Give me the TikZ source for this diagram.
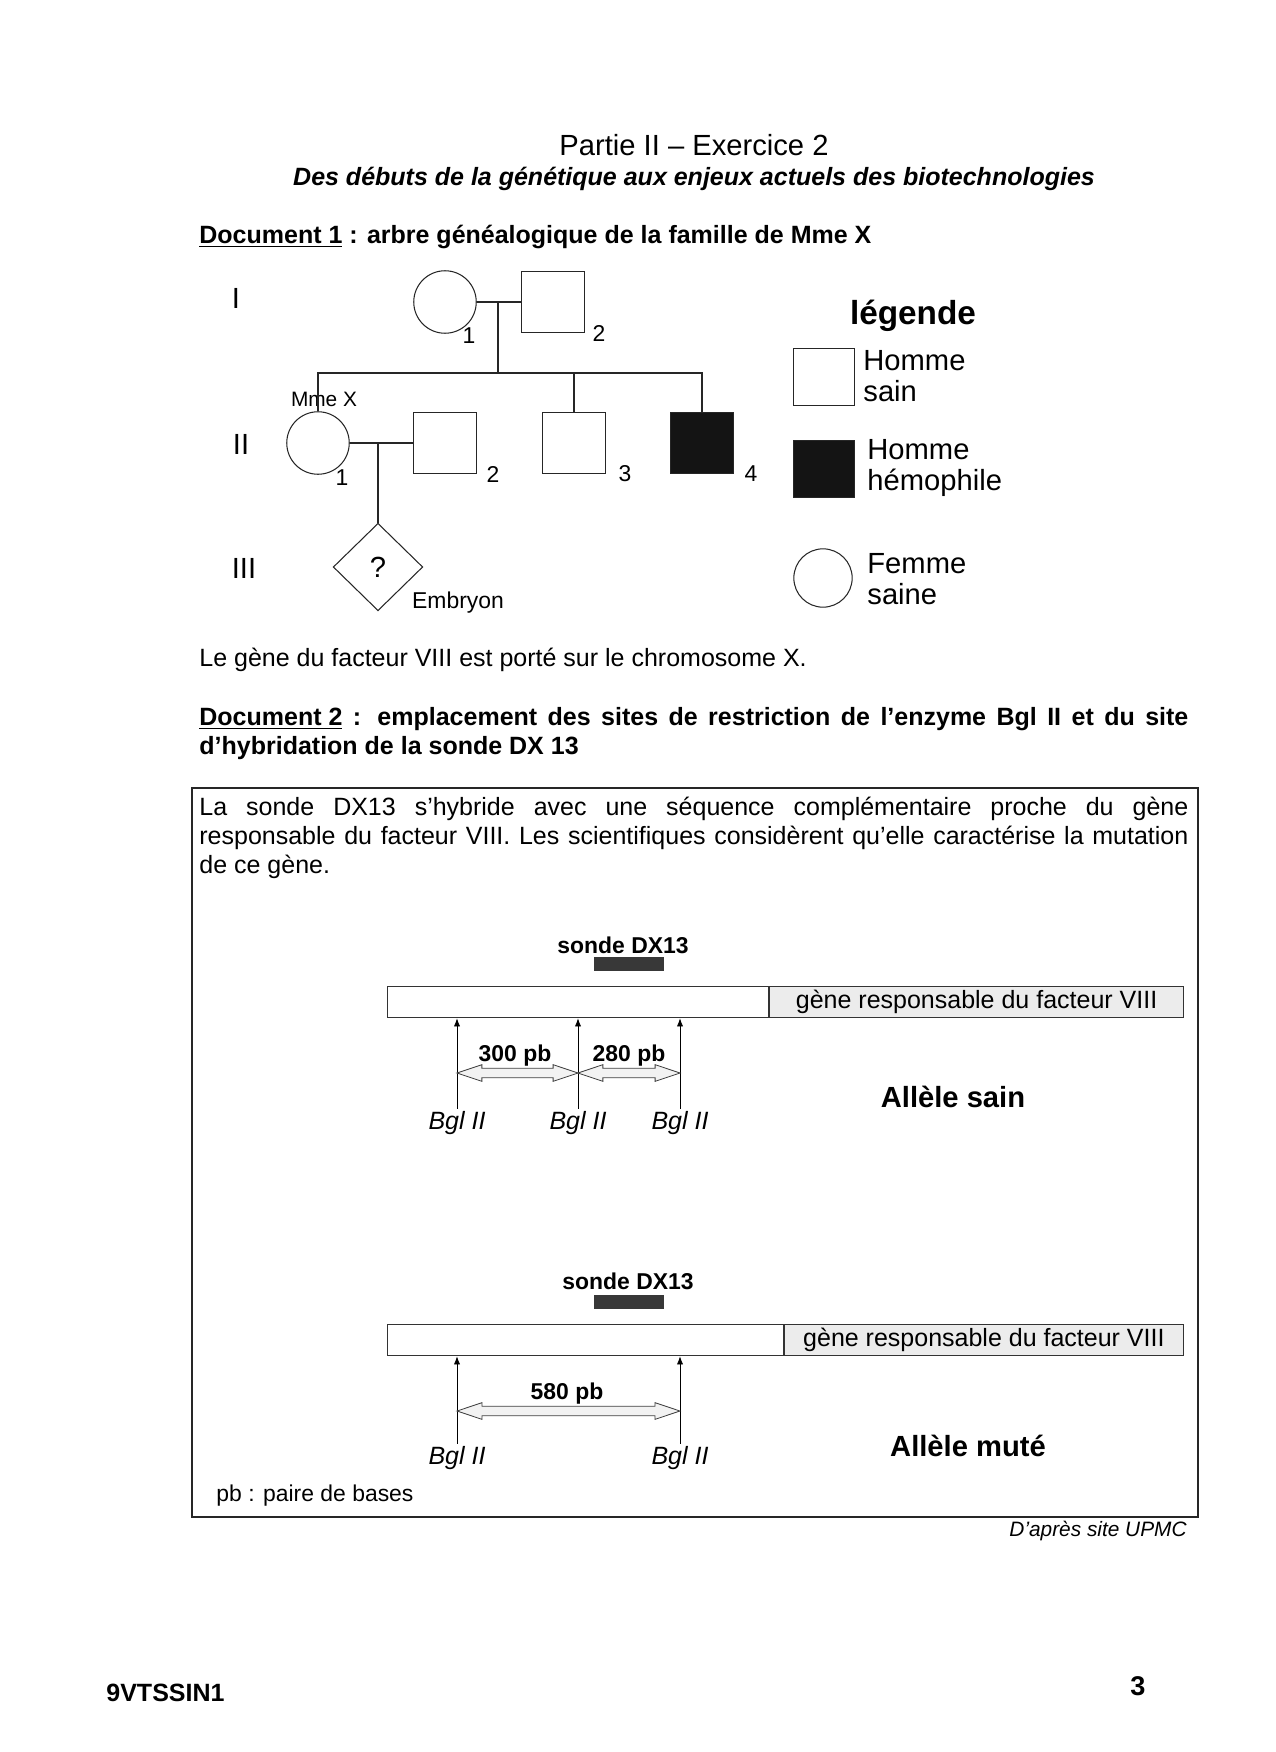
\documentclass[tikz,border=0pt]{standalone}
\usepackage{fontspec}
\setmainfont{Liberation Sans}
\usetikzlibrary{shapes.geometric, shapes.arrows, arrows.meta, positioning, calc}

\tikzset{
  trait/.style={draw=black!85, line width=0.5pt},
  homme/.style={trait, rectangle, minimum width=30pt, minimum height=29pt, inner sep=0pt},
  malade/.style={homme, fill=black!92},
  femme/.style={trait, circle, minimum size=30pt, inner sep=0pt},
  embryon/.style={trait, diamond, minimum width=43pt, minimum height=42pt, inner sep=0pt, font=\fontsize{14}{16}\selectfont},
  numero/.style={font=\fontsize{11}{13}\selectfont, inner sep=0pt},
  generation/.style={font=\fontsize{14}{16}\selectfont, inner sep=0pt},
  legtexte/.style={anchor=west, align=left, inner sep=0pt, font=\fontsize{14}{15}\selectfont},
  barre/.style={draw=black!80, line width=0.5pt, minimum height=15pt, inner sep=0pt},
  gene/.style={barre, fill=gray!15, font=\fontsize{12}{14}\selectfont},
  sonde/.style={fill=black!78, minimum width=33.6pt, minimum height=6.5pt, inner sep=0pt},
  nomsonde/.style={font=\bfseries\fontsize{11}{13}\selectfont, inner sep=0pt},
  site/.style={-{Latex[length=4pt,width=3pt]}, line width=0.4pt},
  enzyme/.style={font=\itshape\fontsize{12}{14}\selectfont, inner sep=1pt},
  taille/.style={double arrow, draw=black!75, fill=gray!10, line width=0.4pt,
    inner xsep=0pt, inner ysep=2.1pt, double arrow head extend=1.7pt, double arrow tip angle=37},
  pb/.style={font=\bfseries\fontsize{11}{13}\selectfont, inner sep=0pt},
  allele/.style={font=\bfseries\fontsize{14}{16}\selectfont, inner sep=0pt},
  texte/.style={font=\fontsize{12}{13.8}\selectfont, inner sep=0pt},
}

\begin{document}
\begin{tikzpicture}[x=0.48pt, y=-0.48pt]
  \useasboundingbox[fill=white] (0,0) rectangle (1275,1752);

  % En-tete
  \node[font=\fontsize{14}{16}\selectfont] (titre) at (694,145) {Partie II -- Exercice 2};
  \node[font=\bfseries\itshape\fontsize{12}{14}\selectfont] (soustitre) at (694,178.5)
    {Des débuts de la génétique aux enjeux actuels des biotechnologies};
  \node[texte, anchor=west, font=\bfseries\fontsize{12}{14}\selectfont] (doc1) at (199,237)
    {\underline{Document 1} : arbre généalogique de la famille de Mme X};

  % Generation I
  \node[generation] (gI) at (236,298) {I};
  \node[femme] (i1) at (445,302) {};
  \node[homme] (i2) at (553,302) {};
  \node[numero] (n-i1) at (469,336) {1};
  \node[numero] (n-i2) at (599,333) {2};
  \draw[trait] (i1.east) -- (i2.west);
  \coordinate (union1) at (498,302);
  \coordinate (fratrie) at (498,373);
  \draw[trait] (union1) -- (fratrie);

  % Generation II
  \node[generation] (gII) at (241,444) {II};
  \node[femme] (ii1) at (318,443) {};
  \node[homme] (ii2) at (445,443) {};
  \node[homme] (ii3) at (574,443) {};
  \node[malade] (ii4) at (702,443) {};
  \node[numero] (n-ii1) at (342,478) {1};
  \node[numero] (n-ii2) at (493,474) {2};
  \node[numero] (n-ii3) at (625,474) {3};
  \node[numero] (n-ii4) at (751,474) {4};
  \node[font=\fontsize{10}{12}\selectfont, inner sep=0pt] (mmex) at (324,399) {Mme X};
  \draw[trait] (ii1.north) -- (ii1.north |- fratrie) -- (ii4.north |- fratrie) -- (ii4.north);
  \draw[trait] (ii3.north) -- (ii3.north |- fratrie);
  \draw[trait] (ii1.east) -- (ii2.west);
  \coordinate (union2) at (378,443);

  % Generation III
  \node[generation] (gIII) at (244,568) {III};
  \node[embryon] (iii1) at (378,567) {?};
  \node[numero] (n-iii1) at (458,603) {Embryon};
  \draw[trait] (union2) -- (iii1.north);

  % Legende
  \node[font=\bfseries\fontsize{16}{18}\selectfont] (legende) at (913,316) {légende};
  \node[homme, minimum width=29pt, minimum height=27pt] (leg-sain) at (824,377) {};
  \node[legtexte] (t-sain) at (863,376) {Homme\\sain};
  \node[malade, minimum width=29pt, minimum height=27pt] (leg-malade) at (824,469) {};
  \node[legtexte] (t-malade) at (867,468) {Homme\\hémophile};
  \node[femme, minimum size=28pt] (leg-femme) at (823,578) {};
  \node[legtexte] (t-femme) at (867,579) {Femme\\saine};

  \node[texte, anchor=west] (chromo) at (199,660) {Le gène du facteur VIII est porté sur le chromosome X.};

  % Document 2
  \node[texte, anchor=north west, text width=474.7pt, align=justify,
    font=\bfseries\fontsize{12}{14}\selectfont] (doc2) at (199,707)
    {\underline{Document 2} : emplacement des sites de restriction de l'enzyme Bgl II et du site d'hybridation de la sonde DX 13};
  \draw[trait] (192,788) rectangle (1198,1517);
  \node[texte, anchor=north west, text width=474.7pt, align=justify] (intro) at (199,797)
    {La sonde DX13 s'hybride avec une séquence complémentaire proche du gène\linebreak
     responsable du facteur VIII. Les scientifiques considèrent qu'elle caractérise la mutation\linebreak
     de ce gène.};

  % Allele sain
  \node[barre, anchor=west, minimum width=182.9pt] (b1) at (387,1002) {};
  \node[gene, anchor=west, minimum width=198.7pt, right=0pt of b1] (g1) {gène responsable du facteur VIII};
  \node[sonde] (s1) at (629,964) {};
  \node[nomsonde] (ns1) at (623,945) {sonde DX13};
  \node[enzyme] (bgl1) at (457,1123) {Bgl II};
  \node[enzyme] (bgl2) at (578,1123) {Bgl II};
  \node[enzyme] (bgl3) at (680,1123) {Bgl II};
  \foreach \k in {1,2,3} {
    \coordinate (site\k) at (bgl\k.north |- b1.south);
    \draw[site] (bgl\k.north) -- (site\k);
  }
  \node[taille, minimum height=58.1pt] (d1) at (517.5,1073) {};
  \node[taille, minimum height=49pt] (d2) at (629,1073) {};
  \node[pb] (pb1) at (515,1056) {300 pb};
  \node[pb] (pb2) at (629,1056) {280 pb};
  \node[allele] (sain) at (953,1097) {Allèle sain};

  % Allele mute
  \node[barre, anchor=west, minimum width=190pt] (b2) at (387,1340) {};
  \node[gene, anchor=west, minimum width=191.5pt, right=0pt of b2] (g2) {gène responsable du facteur VIII};
  \node[sonde] (s2) at (629,1302) {};
  \node[nomsonde] (ns2) at (628,1281) {sonde DX13};
  \node[enzyme] (bgl4) at (457,1458) {Bgl II};
  \node[enzyme] (bgl5) at (680,1458) {Bgl II};
  \foreach \k in {4,5} {
    \coordinate (site\k) at (bgl\k.north |- b2.south);
    \draw[site] (bgl\k.north) -- (site\k);
  }
  \node[taille, minimum height=107pt] (d3) at (568.5,1411) {};
  \node[pb] (pb3) at (567,1394) {580 pb};
  \node[allele] (mute) at (968,1446) {Allèle muté};

  \node[texte, anchor=west, font=\fontsize{11}{13}\selectfont] (legpb) at (216,1496) {pb : paire de bases};
  \node[texte, anchor=east, font=\itshape\fontsize{10}{12}\selectfont] (source) at (1187,1531) {D'après site UPMC};

  % Pied de page
  \node[texte, anchor=west, font=\bfseries\fontsize{12}{14}\selectfont] (code) at (106,1693) {9VTSSIN1};
  \node[texte, font=\bfseries\fontsize{13}{15}\selectfont] (page) at (1138,1686) {3};
\end{tikzpicture}
\end{document}
